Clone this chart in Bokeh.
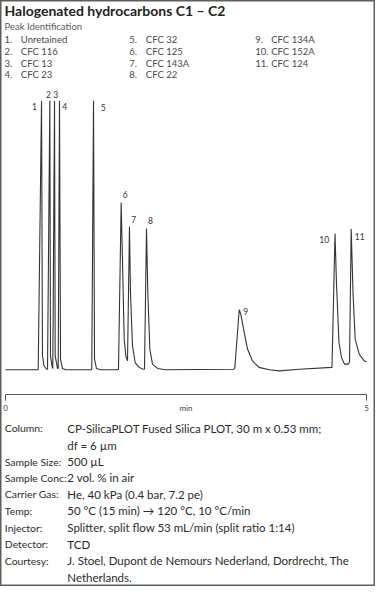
from bokeh.plotting import figure
from bokeh.models import Range1d, FixedTicker, ColumnDataSource
from bokeh.core.properties import value
from bokeh.embed import file_html
from bokeh.resources import INLINE

# ---------------- data ----------------
title_text = "Halogenated hydrocarbons C1 \u2013 C2"
list_heading = "Peak Identification"
peak_ids = ["1", "2", "3", "4", "5", "6", "7", "8", "9", "10", "11"]
peak_names = ["Unretained", "CFC 116", "CFC 13", "CFC 23", "CFC 32", "CFC 125",
              "CFC 143A", "CFC 22", "CFC 134A", "CFC 152A", "CFC 124"]
# retention time (min) and apex height (% of full scale) of each labelled peak
peak_times = [0.499, 0.614, 0.679, 0.748, 1.219, 1.602, 1.717, 1.953, 3.237, 4.564, 4.788]
peak_heights = [100.0, 100.0, 100.0, 100.0, 100.0, 62.2, 53.2, 52.5, 22.3, 50.7, 52.3]

# detector trace: time (min), signal (% of full scale)
trace_time = [0.000, 0.443, 0.453, 0.499, 0.512, 0.532, 0.568,
              0.582, 0.614, 0.623, 0.648,
              0.655, 0.679, 0.688, 0.720,
              0.730, 0.748, 0.762, 0.789, 0.835,
              1.191, 1.195, 1.219, 1.233, 1.260, 1.320,
              1.551, 1.565, 1.602, 1.620, 1.644, 1.666, 1.690,
              1.717, 1.731, 1.759, 1.796, 1.852, 1.898,
              1.925, 1.953, 1.971, 1.999, 2.036, 2.105, 2.216,
              3.163, 3.177, 3.237, 3.259, 3.306, 3.352, 3.421, 3.510, 3.652,
              3.790, 4.068, 4.522,
              4.564, 4.584, 4.619, 4.654, 4.695, 4.751,
              4.765, 4.788, 4.813, 4.843, 4.899, 4.968, 5.004]
trace_signal = [0.0, 0.0, 0.2, 100.0, 5.3, 1.6, 0.2,
                0.2, 100.0, 5.3, 0.9,
                0.5, 100.0, 5.3, 0.5,
                0.5, 100.0, 3.9, 0.5, 0.0,
                0.0, 0.2, 100.0, 3.9, 0.5, 0.0,
                0.0, 0.2, 62.2, 41.1, 11.4, 5.2, 3.3,
                53.2, 28.7, 8.9, 2.7, 0.9, 0.3,
                0.2, 52.5, 28.7, 7.7, 2.1, 0.5, 0.0,
                0.2, 0.9, 22.3, 20.7, 13.9, 7.7, 3.3, 0.9, 0.0,
                -0.4, 0.2, 0.9,
                50.7, 32.4, 10.1, 4.6, 2.1, 2.1,
                3.1, 52.3, 28.7, 11.4, 5.8, 3.3, 3.0]

axis_ticks = [0, 5]
axis_title = "min"

cond_labels = ["Column:", "", "Sample Size:", "Sample Conc:", "Carrier Gas:",
               "Temp:", "Injector:", "Detector:", "Courtesy:", ""]
cond_values = ["CP-SilicaPLOT Fused Silica PLOT, 30 m x 0.53 mm;",
               "df = 6 \u00b5m",
               "500 \u00b5L",
               "2 vol. % in air",
               "He, 40 kPa (0.4 bar, 7.2 pe)",
               "50 \u00b0C (15 min) \u2192 120 \u00b0C, 10 \u00b0C/min",
               "Splitter, split flow 53 mL/min (split ratio 1:14)",
               "TCD",
               "J. Stoel, Dupont de Nemours Nederland, Dordrecht, The",
               "Netherlands."]

# ---------------- layout / style ----------------
W, H = 375, 586
FONT = "Lato"
# pixel placement of the chromatogram inside the canvas
T0_PX, T5_PX = 5.0, 366.0          # x pixel of 0 min and 5 min
S0_PY, S100_PY = 369.3, 100.3      # y pixel of 0 % and 100 % signal
AXIS_PY = 394.0                    # y pixel of the time axis
t_min, t_max = axis_ticks[0], axis_ticks[-1]
px_per_min = (T5_PX - T0_PX) / (t_max - t_min)
px_per_pct = (S0_PY - S100_PY) / 100.0

x_rng = Range1d(t_min - T0_PX / px_per_min, t_min + (W - T0_PX) / px_per_min)
y_rng = Range1d(-(H - S0_PY) / px_per_pct, S0_PY / px_per_pct)

p = figure(width=W, height=H, output_backend="svg", toolbar_location=None, tools="",
           x_range=x_rng, y_range=y_rng,
           min_border_left=0, min_border_right=0, min_border_top=0, min_border_bottom=0,
           y_axis_location=None)
p.extra_x_ranges = {"px": Range1d(0, W)}
p.extra_y_ranges = {"px": Range1d(H, 0)}
p.grid.visible = False
p.background_fill_color = "white"
p.border_fill_color = "white"
p.outline_line_color = "#5e5e5e"
p.outline_line_width = 2

ax = p.xaxis[0]
ax.fixed_location = -(AXIS_PY - S0_PY) / px_per_pct
ax.bounds = (t_min, t_max)
ax.ticker = FixedTicker(ticks=axis_ticks)
ax.axis_label = axis_title
ax.axis_line_color = "#555555"
ax.axis_line_width = 1
ax.major_tick_line_color = "#555555"
ax.major_tick_in = 0
ax.major_tick_out = 6
ax.minor_tick_line_color = None
ax.major_label_standoff = 4
ax.major_label_text_font = FONT
ax.major_label_text_font_size = "8px"
ax.major_label_text_color = "#444444"
ax.axis_label_text_font = FONT
ax.axis_label_text_font_size = "8px"
ax.axis_label_text_font_style = "normal"
ax.axis_label_text_color = "#444444"
ax.axis_label_standoff = -11

# chromatogram trace
p.line(trace_time, trace_signal, line_color="#333333", line_width=1.1)

# peak numbers
label_dx = [-7, -1.3, 1.3, 5.3, 9.7, 4, 4.3, 4, 6.6, -10.8, 8.6]
label_dy = [6, -6.6, -6.6, 6, 7, -8, -7.6, -7.7, 2, 5.7, 7.6]
src = ColumnDataSource(dict(t=peak_times, s=peak_heights, txt=peak_ids, dx=label_dx, dy=label_dy))
p.text(x="t", y="s", text="txt", x_offset="dx", y_offset="dy", source=src,
       text_font=value(FONT), text_font_size="8.5px", text_color="#333333",
       text_align="center", text_baseline="middle")


def put(texts, xs, ys, size, color, bold=False):
    p.text(x=xs, y=ys, text=texts, x_range_name="px", y_range_name="px",
           text_font=value(FONT), text_font_size=f"{size}px", text_color=color,
           text_font_style="bold" if bold else "normal",
           text_align="left", text_baseline="middle")


# title and peak identification list
put([title_text], [4], [9.5], 14, "#222222", bold=True)
put([list_heading], [4], [26.3], 9.5, "#5a5a5a")
col_num_x = [4, 128.7, 254.7]
col_name_x = [20.3, 145.3, 270.7]
row_y = [38.7, 51.0, 62.7, 74.3]
cols = [0] * 4 + [1] * 4 + [2] * 3
rows = [0, 1, 2, 3, 0, 1, 2, 3, 0, 1, 2]
put([i + "." for i in peak_ids], [col_num_x[c] for c in cols], [row_y[r] for r in rows], 9.5, "#484848")
put(peak_names, [col_name_x[c] for c in cols], [row_y[r] for r in rows], 9.5, "#484848")

# conditions block
cond_y = [427.7, 444.7, 461.3, 477.3, 493.7, 510.3, 527.0, 543.7, 560.3, 577.3]
put(cond_labels, [4.3] * len(cond_labels), cond_y, 10.4, "#2a2a2a")
put(cond_values, [66.8] * len(cond_values), cond_y, 11.5, "#2a2a2a")

open("out.html", "w").write(file_html(p, INLINE))
